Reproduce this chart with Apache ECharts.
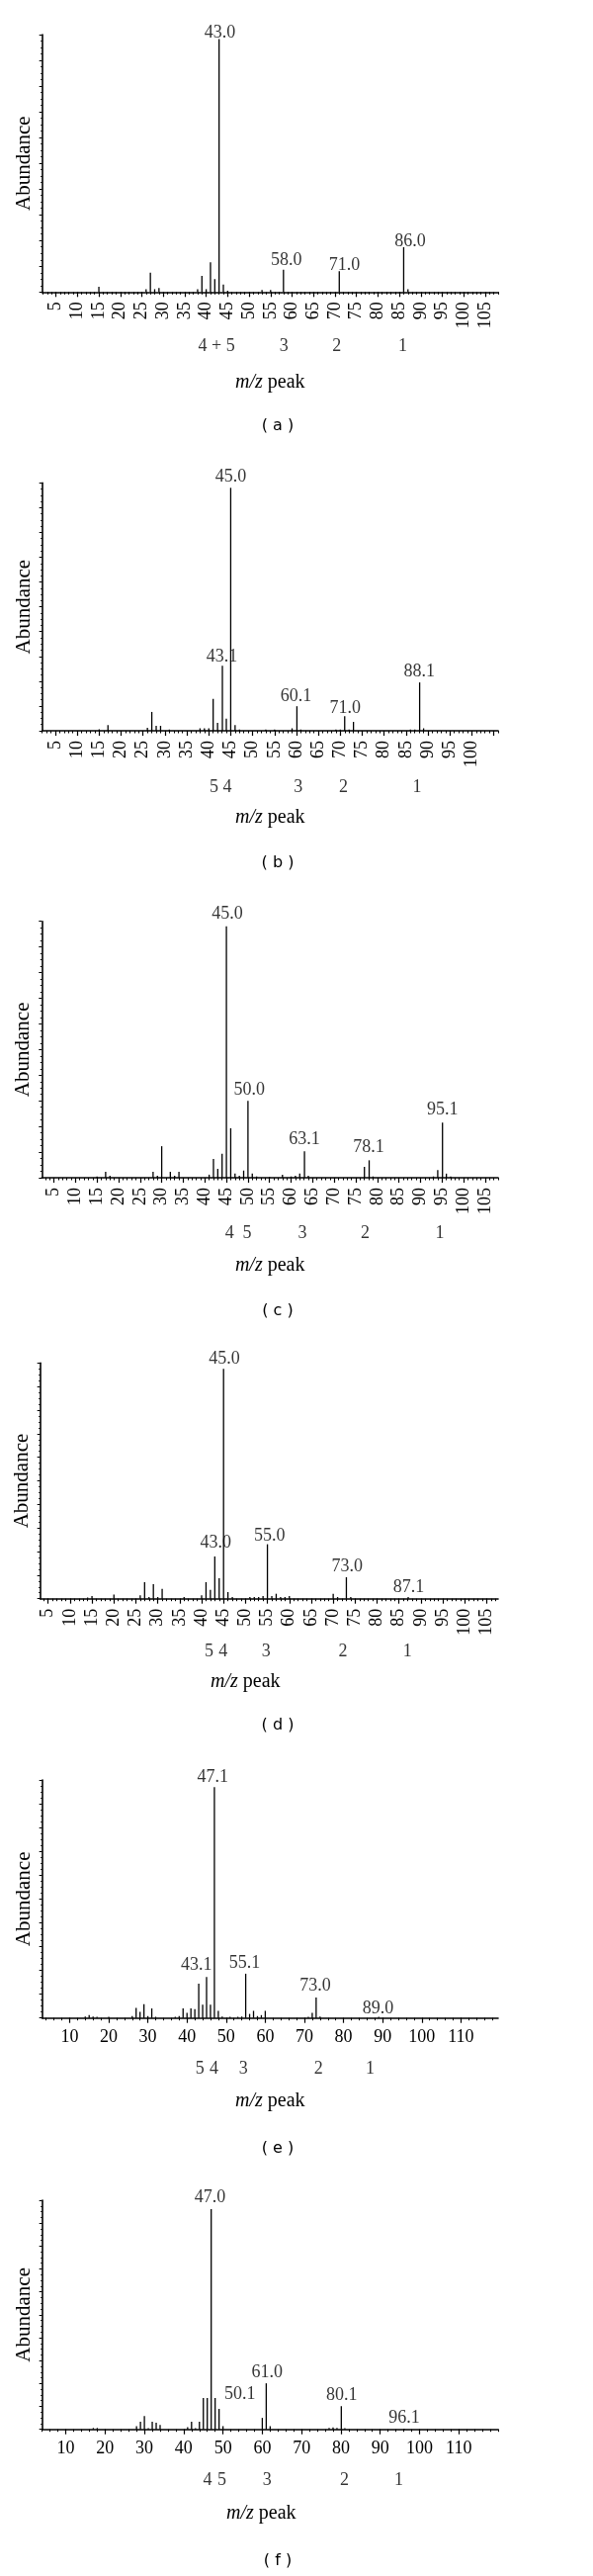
<!DOCTYPE html>
<html><head><meta charset="utf-8">
<script src="https://cdn.jsdelivr.net/npm/echarts@6/dist/echarts.min.js"></script>
<style>html,body{margin:0;padding:0;background:#fff}#c{width:600px;height:2605px}</style>
</head><body><div id="c"></div>
<script>
// ---------- DATA (m/z, relative abundance %) ----------
const spectrumA = [[15,2],[26,1.1],[27,7.5],[28,1.1],[29,1.6],[38,1.1],[39,6.3],[40,1.1],[41,11.5],[42,5],[43,98.3],[44,2.9],[45,0.5],[53,0.8],[55,0.8],[58,8.7],[71,8.1],[86,17.4],[87,1.1]];
const peakLabelsA = [[43.2,98.3,'43.0'],[58.7,10,'58.0'],[72.2,8.2,'71.0'],[87.5,17.4,'86.0']];
const fragmentsA = [[42.4,'4 + 5'],[58.1,'3'],[70.4,'2'],[85.8,'1']];

const spectrumB = [[15,0.6],[17,2.3],[26,1.2],[27,7.6],[28,2],[29,2],[31,0.5],[38,1],[39,1],[40,1],[41,12.9],[42,3.2],[43.1,26.2],[44,4.9],[45,98],[46,2.3],[47,0.5],[53,0.5],[55,0.5],[59,1],[60.1,9.9],[61,0.5],[69,0.5],[70,0.5],[71,5.9],[72,0.5],[73,3.6],[86,0.5],[87,0.5],[88.1,19.5],[89,1]];
const peakLabelsB = [[45.0,100,'45.0'],[43.0,27.6,'43.1'],[59.9,11.4,'60.1'],[71.1,6.7,'71.0'],[88.0,21.4,'88.1']];
const fragmentsB = [[41.2,'5'],[44.2,'4'],[60.4,'3'],[70.7,'2'],[87.5,'1']];

const spectrumC = [[15,0.5],[17,2.3],[18,0.8],[28,2.3],[29,0.8],[30,12.3],[32,2.3],[33,0.8],[34,2.3],[41,1.2],[42,7.3],[43,3.5],[44,9.4],[45,98.1],[46,19.3],[47,1.6],[48,0.8],[49,2.8],[50,30],[51,1.6],[52,0.5],[55,0.3],[58,1.2],[60,0.5],[61,0.8],[62,1.6],[63.1,10.3],[64,0.8],[77,4.2],[78.1,6.8],[79,0.5],[93,0.5],[94,3],[95.1,21.5],[96,1.6],[97,0.5]];
const peakLabelsC = [[45.2,100.6,'45.0'],[50.3,31.9,'50.0'],[63.1,12.8,'63.1'],[78.0,9.4,'78.1'],[95.1,24.2,'95.1']];
const fragmentsC = [[45.7,'4'],[49.8,'5'],[62.6,'3'],[77.2,'2'],[94.5,'1']];

const spectrumD = [[14,0.5],[15,1.1],[20,1.8],[26,1.4],[27,7],[28,0.7],[29,6.2],[30,0.7],[31,4.2],[36,0.7],[40,1.4],[41,7],[42,3.8],[43,17.9],[44,8.7],[45,97.5],[46,2.8],[47,0.7],[51,0.7],[52,0.7],[53,0.7],[54,1.1],[55,23.1],[56,1.1],[57,2.1],[58,0.7],[59,0.7],[60,1.1],[70,2.1],[71,0.7],[73,9.1],[74,0.7],[87.1,0.7]];
const peakLabelsD = [[45.2,99,'45.0'],[43.2,21.3,'43.0'],[55.5,24.1,'55.0'],[73.2,10.9,'73.0'],[87.2,2.1,'87.1']];
const fragmentsD = [[41.7,'5'],[44.9,'4'],[54.7,'3'],[72.2,'2'],[86.9,'1']];

const spectrumE = [[14,0.6],[15,1.2],[16,0.6],[17,0.5],[20,0.5],[26,0.8],[27,4.2],[28,2.6],[29,5.8],[30,0.8],[31,4],[32,0.5],[37,0.5],[38,0.8],[39,4],[40,2.2],[41,4],[42,3.7],[43,14.4],[44,5.6],[45,17.2],[46,5.6],[47,97],[48,3],[49,0.6],[51,0.5],[53,0.5],[54,0.6],[55,18.6],[56,1.7],[57,3],[58,0.8],[59,1.2],[60,3],[71,0.5],[72,2.2],[73,8.6],[74,0.6],[89,0.5]];
const peakLabelsE = [[46.6,98.6,'47.1'],[42.4,19.7,'43.1'],[54.7,20.4,'55.1'],[72.8,11.1,'73.0'],[88.8,1.4,'89.0']];
const fragmentsE = [[43.3,'5'],[46.9,'4'],[54.4,'3'],[73.6,'2'],[86.8,'1']];

const spectrumF = [[17,0.6],[18,0.6],[28,1.4],[29,3.3],[30,5.8],[31,0.5],[32,3.3],[33,2.9],[34,1.9],[41,1],[42,3.3],[43,0.5],[44,3.3],[45,13.7],[46,13.7],[47,96.1],[48,13.7],[49,8.9],[50,1.4],[60,5],[61,20.1],[62,1.4],[77,0.6],[78,0.8],[79,0.6],[80.1,10.1],[81,0.5],[96.1,0.3]];
const peakLabelsF = [[46.7,98.6,'47.0'],[61.2,22,'61.0'],[54.3,12.9,'50.1'],[80.2,12.3,'80.1'],[96.1,2.5,'96.1']];
const fragmentsF = [[46.1,'4'],[49.7,'5'],[61.2,'3'],[80.9,'2'],[94.7,'1']];

// tick labels
const ticksBy5 = [5,10,15,20,25,30,35,40,45,50,55,60,65,70,75,80,85,90,95,100,105];
const ticksBy5To100 = [5,10,15,20,25,30,35,40,45,50,55,60,65,70,75,80,85,90,95,100];
const ticksBy10 = [10,20,30,40,50,60,70,80,90,100,110];
const captions = ['( a )','( b )','( c )','( d )','( e )','( f )'];

// ---------- LAYOUT ----------
const SERIF = '"Liberation Serif","Times New Roman",serif';
const AXIS_RIGHT = 504;
const panels = [
  {spec:spectrumA, peaks:peakLabelsA, frags:fragmentsA, labels:ticksBy5, majorTicks:ticksBy5, minorStep:1, top:35, height:260.3, left:42.7, xMin:1.8, xMax:108, rotated:true, nameGap:81, nameShift:0, annDist:46, captionY:433},
  {spec:spectrumB, peaks:peakLabelsB, frags:fragmentsB, labels:ticksBy5To100, majorTicks:ticksBy5, minorStep:1, top:488.3, height:250.7, left:42.7, xMin:2, xMax:106, rotated:true, nameGap:78, nameShift:0, annDist:48.7, captionY:875},
  {spec:spectrumC, peaks:peakLabelsC, frags:fragmentsC, labels:ticksBy5, majorTicks:ticksBy5, minorStep:1, top:931.7, height:259.3, left:42.3, xMin:2.2, xMax:108, rotated:true, nameGap:79, nameShift:0, annDist:47, captionY:1328},
  {spec:spectrumD, peaks:peakLabelsD, frags:fragmentsD, labels:ticksBy5, majorTicks:ticksBy5, minorStep:1, top:1378.3, height:238.4, left:40.7, xMin:3.2, xMax:107.6, rotated:true, nameGap:74, nameShift:-24, annDist:45, captionY:1747},
  {spec:spectrumE, peaks:peakLabelsE, frags:fragmentsE, labels:ticksBy10, majorTicks:ticksBy10, minorStep:2, top:1800, height:240.7, left:42.7, xMin:3, xMax:119.5, rotated:false, nameGap:74, nameShift:0, annDist:42.6, captionY:2175},
  {spec:spectrumF, peaks:peakLabelsF, frags:fragmentsF, labels:ticksBy10, majorTicks:ticksBy10, minorStep:2, top:2225, height:231.7, left:42.7, xMin:4, xMax:120, rotated:false, nameGap:75, nameShift:-9, annDist:43, captionY:2591.7}
];

const grid = [], xAxis = [], yAxis = [], series = [], title = [];
panels.forEach((p, i) => {
  grid.push({left:p.left, top:p.top, width:AXIS_RIGHT - p.left, height:p.height});
  const minors = [];
  for (let v = Math.ceil(p.xMin / p.minorStep) * p.minorStep; v <= p.xMax; v += p.minorStep) minors.push(v);
  const shift = p.nameShift;
  xAxis.push({
    gridIndex:i, type:'value', min:p.xMin, max:p.xMax, position:'bottom',
    axisLine:{show:true, onZero:false, lineStyle:{color:'#000', width:1.6}},
    axisTick:{show:true, customValues:p.majorTicks, length:5, lineStyle:{color:'#000', width:1.2}},
    axisLabel:{show:true, customValues:p.labels, rotate:p.rotated ? 90 : 0, margin:p.rotated ? 10 : 11,
      fontFamily:SERIF, fontSize:18, color:'#000'},
    splitLine:{show:false},
    name:'{i|m/z} peak', nameLocation:'middle', nameGap:p.nameGap,
    nameTextStyle:{fontFamily:SERIF, fontSize:20, color:'#000',
      padding: shift < 0 ? [0, -2*shift, 0, 0] : [0, 0, 0, 2*shift],
      rich:{i:{fontFamily:SERIF, fontSize:20, fontStyle:'italic', color:'#000'}}}
  });
  xAxis.push({
    gridIndex:i, type:'value', min:p.xMin, max:p.xMax, position:'bottom',
    axisLine:{show:false}, axisLabel:{show:false}, splitLine:{show:false},
    axisTick:{show:true, customValues:minors, length:2.5, lineStyle:{color:'#000', width:1}}
  });
  yAxis.push({
    gridIndex:i, type:'value', min:0, max:100, interval:10,
    axisLine:{show:true, onZero:false, lineStyle:{color:'#000', width:1.6}},
    axisTick:{show:true, length:3, lineStyle:{color:'#000', width:1}},
    minorTick:{show:true, splitNumber:4, length:1.5, lineStyle:{color:'#000', width:1}},
    axisLabel:{show:false}, splitLine:{show:false},
    name:'Abundance', nameLocation:'middle', nameGap:8,
    nameTextStyle:{fontFamily:SERIF, fontSize:21, color:'#000'}
  });
  series.push({
    type:'custom', coordinateSystem:'cartesian2d', xAxisIndex:2*i, yAxisIndex:i,
    data:p.spec, encode:{x:0, y:1}, silent:true,
    renderItem:(params, api) => {
      const x = api.value(0), y = api.value(1);
      const a = api.coord([x, 0]), b = api.coord([x, y]);
      return {type:'line', shape:{x1:a[0], y1:a[1], x2:b[0], y2:b[1]}, style:{stroke:'#000', lineWidth:1.3}};
    }
  });
  series.push({
    type:'scatter', xAxisIndex:2*i, yAxisIndex:i, symbolSize:0, silent:true, clip:false,
    data:p.peaks,
    label:{show:true, position:'top', distance:-3, formatter:(d) => d.data[2],
      fontFamily:SERIF, fontSize:18, color:'#000'}
  });
  series.push({
    type:'scatter', xAxisIndex:2*i, yAxisIndex:i, symbolSize:0, silent:true, clip:false,
    data:p.frags.map(f => [f[0], 0, f[1]]),
    label:{show:true, position:'bottom', distance:p.annDist, formatter:(d) => d.data[2],
      fontFamily:SERIF, fontSize:18, color:'#000'}
  });
  title.push({text:captions[i], left:281, top:p.captionY - 10, textAlign:'center', padding:0,
    textStyle:{fontFamily:'"DejaVu Sans",sans-serif', fontSize:16, fontWeight:'normal', color:'#000'}});
});

const chart = echarts.init(document.getElementById('c'), null, {renderer:'canvas'});
chart.setOption({backgroundColor:'#fff', animation:false, title, grid, xAxis, yAxis, series});
</script></body></html>
